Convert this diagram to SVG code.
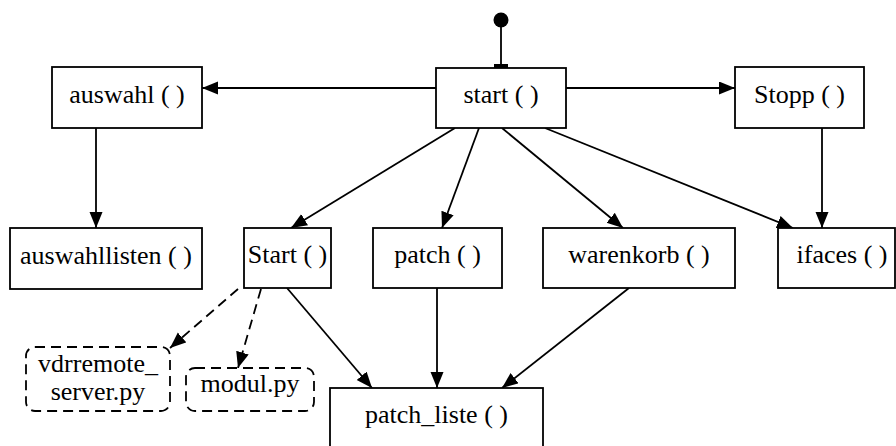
<svg xmlns="http://www.w3.org/2000/svg" width="896" height="446" viewBox="0 0 896 446">
<style>
.box{fill:#fff;stroke:#000;stroke-width:1.8}
.dbox{fill:#fff;stroke:#000;stroke-width:1.8;stroke-dasharray:10,6}
.lbl{font-family:'Liberation Serif','DejaVu Serif',serif;font-size:26px;fill:#000;text-anchor:middle}
.e{stroke:#000;stroke-width:1.8;fill:none}
.d{stroke:#000;stroke-width:1.8;fill:none;stroke-dasharray:10,6}
</style>
<defs>
<marker id="ah" markerUnits="userSpaceOnUse" markerWidth="16" markerHeight="14" refX="16" refY="6.5" orient="auto">
<path d="M0,0 L16,6.5 L0,13 z" fill="#000" stroke="none"/>
</marker>
</defs>
<rect width="896" height="446" fill="#fff"/>
<g id="connectors">
<circle cx="501" cy="20" r="7.5" fill="#000"/>
<line class="e" x1="501" y1="20" x2="501" y2="65"/>
<rect x="494" y="64" width="14" height="4" fill="#000"/>
<line class="e" x1="436" y1="88" x2="202" y2="88" marker-end="url(#ah)"/>
<line class="e" x1="566" y1="88" x2="735" y2="88" marker-end="url(#ah)"/>
<line class="e" x1="96" y1="128" x2="96" y2="228" marker-end="url(#ah)"/>
<line class="e" x1="822" y1="128" x2="822" y2="228" marker-end="url(#ah)"/>
<line class="e" x1="455" y1="128" x2="291" y2="228" marker-end="url(#ah)"/>
<line class="e" x1="479" y1="128" x2="442" y2="228" marker-end="url(#ah)"/>
<line class="e" x1="502" y1="128" x2="623" y2="228" marker-end="url(#ah)"/>
<line class="e" x1="545" y1="128" x2="793" y2="228" marker-end="url(#ah)"/>
<line class="e" x1="287" y1="288" x2="372" y2="388" marker-end="url(#ah)"/>
<line class="e" x1="437" y1="288" x2="437" y2="388" marker-end="url(#ah)"/>
<line class="e" x1="629" y1="288" x2="502" y2="388" marker-end="url(#ah)"/>
<line class="d" x1="238" y1="289" x2="170" y2="348" marker-end="url(#ah)"/>
<line class="d" x1="261" y1="289" x2="238" y2="368" marker-end="url(#ah)"/>
</g>
<g font-family="Liberation Serif, serif" font-size="26">
<g id="start"><rect class="box" x="436" y="68" width="130" height="60"/><text class="lbl" x="501" y="103">start ( )</text></g>
<g id="auswahl"><rect class="box" x="52" y="67" width="150" height="61"/><text class="lbl" x="127" y="103">auswahl ( )</text></g>
<g id="stopp"><rect class="box" x="735" y="67" width="129" height="61"/><text class="lbl" x="799.5" y="103">Stopp ( )</text></g>
<g id="auswahllisten"><rect class="box" x="10" y="228" width="192" height="61"/><text class="lbl" x="106" y="263.5">auswahllisten ( )</text></g>
<g id="Start"><rect class="box" x="244" y="228" width="87" height="60"/><text class="lbl" x="287.5" y="263">Start ( )</text></g>
<g id="patch"><rect class="box" x="373" y="228" width="129" height="60"/><text class="lbl" x="437.5" y="263">patch ( )</text></g>
<g id="warenkorb"><rect class="box" x="543" y="228" width="192" height="60"/><text class="lbl" x="639" y="263">warenkorb ( )</text></g>
<g id="ifaces"><rect class="box" x="778" y="228" width="117" height="60"/><text class="lbl" x="842" y="263">ifaces ( )</text></g>
<g id="patch_liste"><rect class="box" x="330" y="388" width="213" height="62"/><text class="lbl" x="436.5" y="423">patch_liste ( )</text></g>
<g id="vdrremote"><rect class="dbox" x="26" y="347" width="144" height="64" rx="9"/><text class="lbl" x="98" y="372">vdrremote_</text><text class="lbl" x="98" y="400">server.py</text></g>
<g id="modul"><rect class="dbox" x="186" y="368" width="128" height="43" rx="9"/><text class="lbl" x="250" y="392">modul.py</text></g>
</g>
</svg>
